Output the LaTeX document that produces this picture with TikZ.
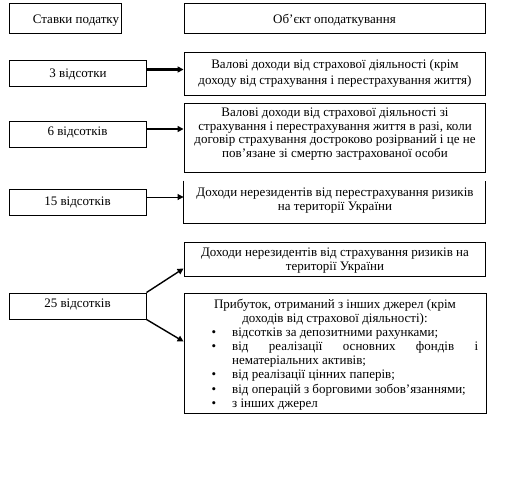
\documentclass[tikz,border=0pt]{standalone}
\usepackage{fontspec}
\setmainfont{Liberation Serif}
\usetikzlibrary{arrows.meta,calc}
\begin{document}
\begin{tikzpicture}[x=1pt,y=-1pt,
  frame/.style={draw, line width=0.9pt, inner sep=0pt},
  lbl/.style={inner sep=0pt, align=center, yshift=-2.5pt, font=\fontsize{13}{14}\selectfont},
  thickarr/.style={line width=2.2pt, -{Triangle[length=6pt,width=6pt]}},
  midarr/.style={line width=1.4pt, -{Triangle[length=6pt,width=6pt]}},
  thinarr/.style={line width=0.9pt, -{Triangle[length=6pt,width=6pt]}},
]
\useasboundingbox (0,0) rectangle (506,493);
% boxes
\node[frame, minimum width=112pt, minimum height=30pt] (L0) at (65,18) {};
\node[frame, minimum width=301pt, minimum height=30pt] (R0) at (334.5,18) {};
\node[frame, minimum width=137pt, minimum height=26pt] (L1) at (77.5,73) {};
\node[frame, minimum width=301pt, minimum height=43pt] (R1) at (334.5,73.5) {};
\node[frame, minimum width=137pt, minimum height=26pt] (L2) at (77.5,134) {};
\node[frame, minimum width=301pt, minimum height=69pt] (R2) at (334.5,137.5) {};
\node[frame, minimum width=137pt, minimum height=26pt] (L3) at (77.5,202) {};
\node[frame, draw=none, minimum width=301pt, minimum height=42pt] (R3) at (334.5,202) {};
\draw[line width=0.9pt] (R3.north west) -- (R3.south west) -- (R3.south east) -- (R3.north east);
\node[frame, minimum width=137pt, minimum height=26pt] (L4) at (77.5,306) {};
\node[frame, minimum width=301pt, minimum height=34pt] (R4) at (334.5,259) {};
\node[frame, minimum width=302pt, minimum height=120pt] (R5) at (335,353) {};
% texts
\node[lbl] (T0) at (76,18) {Ставки податку};
\node[lbl] (T0r) at (334.5,18) {Об’єкт оподаткування};
\node[lbl] (T1) at (78,72) {3 відсотки};
\node[lbl, font=\fontsize{13}{15.5}\selectfont] (T1r) at (335,71) {Валові доходи від страхової діяльності (крім\\доходу від страхування і перестрахування життя)};
\node[lbl, font=\fontsize{13}{13.8}\selectfont] (T2r) at (335,131.5) {Валові доходи від страхової діяльності зі\\страхування і перестрахування життя в разі, коли\\договір страхування достроково розірваний і це не\\пов’язане зі смертю застрахованої особи};
\node[lbl] (T2) at (77.5,130) {6 відсотків};
\node[lbl] (T3) at (77.5,200) {15 відсотків};
\node[lbl] (T3r) at (335,198.5) {Доходи нерезидентів від перестрахування ризиків\\на території України};
\node[lbl] (T4) at (77.5,302) {25 відсотків};
\node[lbl] (T4r) at (335,258.5) {Доходи нерезидентів від страхування ризиків на\\території України};
\node[lbl, font=\fontsize{13}{14.5}\selectfont] (T5) at (335,309.5) {Прибуток, отриманий з інших джерел (крім\\доходів від страхової діяльності):};
\node[inner sep=0pt, anchor=north west, text width=246pt, align=justify, font=\fontsize{13}{14.2}\selectfont] (T5l) at (232,327.5) {%
\noindent\llap{\textbullet\hspace{16pt}}відсотків за депозитними рахунками;\par
\noindent\llap{\textbullet\hspace{16pt}}від реалізації основних фондів і\linebreak нематеріальних активів;\par
\noindent\llap{\textbullet\hspace{16pt}}від реалізації цінних паперів;\par
\noindent\llap{\textbullet\hspace{16pt}}від операцій з борговими зобов’язаннями;\par
\noindent\llap{\textbullet\hspace{16pt}}з інших джерел};
% arrows
\draw[thickarr] ($(L1.east)+(0,-3.5)$) -- ($(L1.east -| R1.west)+(0,-3.5)$);
\draw[thickarr] ($(L2.east)+(0,-5)$) -- ($(L2.east -| R2.west)+(0,-5)$);
\draw[thinarr] ($(L3.east)+(0,-5)$) -- ($(L3.east -| R3.west)+(0,-5)$);
\draw[midarr] (L4.north east) -- ($(R4.south west)+(0,-8)$);
\draw[midarr] (L4.south east) -- ($(R5.north west)+(0,49)$);
\end{tikzpicture}
\end{document}
